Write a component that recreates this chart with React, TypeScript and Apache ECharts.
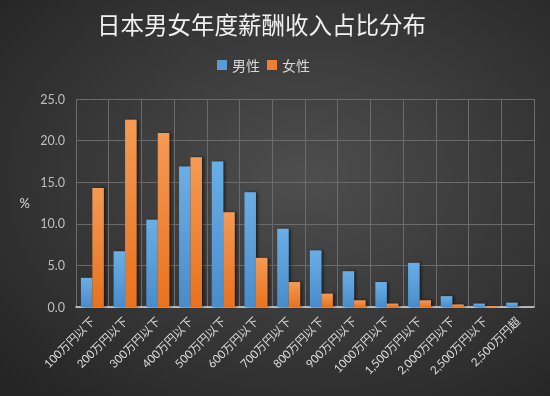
import React, { useEffect, useRef } from "react";
import * as echarts from "echarts";

const categories = [
  "100万円以下", "200万円以下", "300万円以下", "400万円以下", "500万円以下",
  "600万円以下", "700万円以下", "800万円以下", "900万円以下", "1000万円以下",
  "1,500万円以下", "2,000万円以下", "2,500万円以下", "2,500万円超",
];
const maleValues = [3.5, 6.7, 10.5, 16.9, 17.5, 13.8, 9.4, 6.8, 4.3, 3.0, 5.3, 1.3, 0.4, 0.5];
const femaleValues = [14.3, 22.5, 20.9, 18.0, 11.4, 5.9, 3.0, 1.6, 0.8, 0.4, 0.8, 0.3, 0.1, 0.0];
const seriesNames = ["男性", "女性"];
const yTicks = { min: 0, max: 25, interval: 5 };

const FONT = "Lato, 'Noto Sans CJK JP', sans-serif";

export default function App() {
  const ref = useRef<HTMLDivElement>(null);
  useEffect(() => {
    if (!ref.current) return;
    const chart = echarts.init(ref.current, undefined, { renderer: "svg" });
    const barGrad = (top: string, bottom: string) =>
      new echarts.graphic.LinearGradient(0, 0, 0, 1, [
        { offset: 0, color: top },
        { offset: 1, color: bottom },
      ]);
    chart.setOption({
      animation: false,
      backgroundColor: {
        type: "radial",
        x: 0.55,
        y: 0.45,
        r: 0.75,
        colorStops: [
          { offset: 0, color: "#4e4e4e" },
          { offset: 1, color: "#242424" },
        ],
      },
      title: {
        text: "日本男女年度薪酬收入占比分布",
        left: 92,
        top: 7,
        textStyle: {
          color: "#f0f0f0",
          fontSize: 23.5,
          fontWeight: "normal",
          fontFamily: "'Noto Sans CJK SC', sans-serif",
        },
      },
      legend: {
        top: 53,
        left: 212,
        itemWidth: 10,
        itemHeight: 10,
        itemGap: 7,
        textStyle: { color: "#d9d9d9", fontSize: 14, fontFamily: "'Noto Sans CJK SC', sans-serif" },
        data: [
          { name: seriesNames[0], icon: "rect", itemStyle: { color: "#5b9bd5" } },
          { name: seriesNames[1], icon: "rect", itemStyle: { color: "#ed7d31" } },
        ],
      },
      grid: { left: 76, right: 16, top: 99, bottom: 89, containLabel: false },
      xAxis: {
        type: "category",
        data: categories,
        boundaryGap: true,
        axisLine: { show: true, lineStyle: { color: "#d9d9d9", width: 1.5 } },
        axisTick: { show: false },
        splitLine: { show: true, lineStyle: { color: "#6b6b6b", width: 1 } },
        axisLabel: {
          interval: 0,
          rotate: 45,
          color: "#dcdcdc",
          fontSize: 11.5,
          margin: 12,
          fontFamily: FONT,
        },
      },
      yAxis: {
        type: "value",
        min: yTicks.min,
        max: yTicks.max,
        interval: yTicks.interval,
        name: "%",
        nameLocation: "middle",
        nameRotate: 0,
        nameGap: 46,
        nameTextStyle: { color: "#d9d9d9", fontSize: 13, fontFamily: FONT },
        axisLine: { show: false },
        axisTick: { show: false },
        splitLine: { show: true, lineStyle: { color: "#6b6b6b", width: 1 } },
        axisLabel: {
          color: "#bfbfbf",
          fontSize: 12.5,
          margin: 11,
          fontFamily: FONT,
          formatter: (v: number) => v.toFixed(1),
        },
      },
      series: [
        {
          name: seriesNames[0],
          type: "bar",
          data: maleValues,
          barGap: "0%",
          barCategoryGap: "30%",
          itemStyle: {
            color: barGrad("#6aaee6", "#4a8ccb"),
            shadowColor: "rgba(0,0,0,0.55)",
            shadowBlur: 3,
            shadowOffsetX: 2,
            shadowOffsetY: 0,
          },
        },
        {
          name: seriesNames[1],
          type: "bar",
          data: femaleValues,
          barGap: "0%",
          barCategoryGap: "30%",
          itemStyle: {
            color: barGrad("#f49a55", "#e8721f"),
            shadowColor: "rgba(0,0,0,0.55)",
            shadowBlur: 3,
            shadowOffsetX: 2,
            shadowOffsetY: 0,
          },
        },
      ],
    });
    return () => chart.dispose();
  }, []);
  return (
    <div
      ref={ref}
      style={{ position: "fixed", left: 0, top: 0, width: 550, height: 396 }}
    />
  );
}
